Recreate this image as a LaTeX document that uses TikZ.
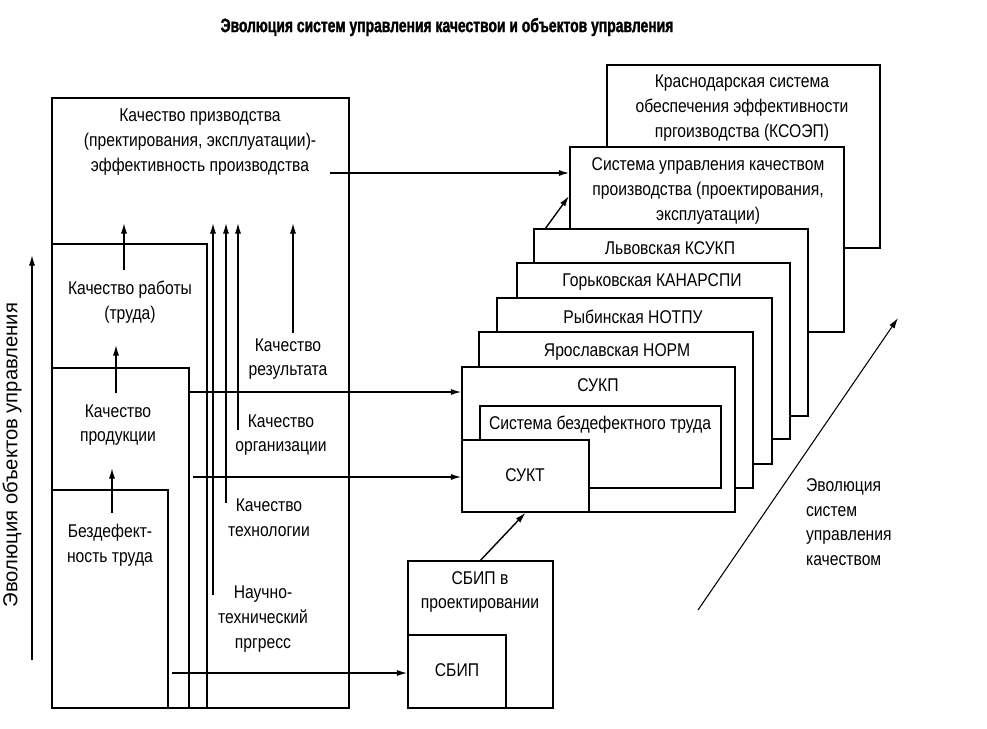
\documentclass[tikz,border=0pt]{standalone}
\usepackage{fontspec}
\setmainfont{Liberation Sans}[FakeStretch=0.85]
\newfontfamily\titlefont{Liberation Sans}[FakeStretch=0.72,FakeBold=1.5]
\newfontfamily\widefont{Liberation Sans}
\usetikzlibrary{arrows.meta,fit}
\begin{document}
\begin{tikzpicture}[x=0.02cm,y=-0.02cm,
  box/.style={draw,fill=white,line width=0.8pt,inner sep=0pt},
  lbl/.style={align=center,font=\fontsize{10.5}{14}\selectfont,inner sep=1pt},
  ln/.style={line width=0.8pt},
  arr/.style={line width=0.8pt,-{Latex[length=6pt,width=3.5pt]}}]
\useasboundingbox (0,0) rectangle (987,728);

% title
\node[font=\titlefont\fontsize{11}{13}\selectfont\bfseries] (title) at (447,27) {Эволюция систем управления качествои и объектов управления};

% left nested boxes
\node[box,fit={(52,98) (349,708)}] (q1) {};
\node[box,fit={(52,244) (207,708)}] (q2) {};
\node[box,fit={(52,368) (189,708)}] (q3) {};
\node[box,fit={(52,490) (168,708)}] (q4) {};

\node[lbl] (t1) at (200,142) {Качество призводства\\(пректирования, эксплуатации)-\\эффективность производства};
\node[lbl] (t2) at (130,302) {Качество работы\\(труда)};
\node[lbl] (t3) at (118,425) {Качество\\продукции};
\node[lbl] (t4) at (110,545) {Бездефект-\\ность труда};
\node[lbl] (r1) at (288,359) {Качество\\результата};
\node[lbl] (r2) at (281,435) {Качество\\организации};
\node[lbl] (r3) at (269,518) {Качество\\технологии};
\node[lbl] (r4) at (263,619) {Научно-\\технический\\пргресс};

% right stack
\node[box,fit={(607,65) (880,248)}] (kr) {};
\node[lbl] (krt) at (742,108) {Краснодарская система\\обеспечения эффективности\\пргоизводства (КСОЭП)};
\node[box,fit={(570,147) (844,332)}] (sup) {};
\node[lbl] (supt) at (708,191) {Система управления качеством\\производства (проектирования,\\эксплуатации)};
\node[box,fit={(534,229) (808,416)}] (lv) {};
\node[lbl] (lvt) at (670,248) {Львовская КСУКП};
\node[box,fit={(517,263) (790,439)}] (gor) {};
\node[lbl] (gort) at (652,282) {Горьковская КАНАРСПИ};
\node[box,fit={(497,298) (772,464)}] (ryb) {};
\node[lbl] (rybt) at (633,317) {Рыбинская НОТПУ};
\node[box,fit={(479,332) (753,488)}] (yar) {};
\node[lbl] (yart) at (617,352) {Ярославская НОРМ};
\node[box,fit={(462,367) (735,512)}] (sukp) {};
\node[lbl] (sukpt) at (598,385) {СУКП};
\node[box,fit={(480,406) (721,488)}] (sbt) {};
\node[lbl] (sbtt) at (600,425) {Система бездефектного труда};
\node[box,fit={(462,440) (589,512)}] (sukt) {};
\node[lbl] (suktt) at (525,475) {СУКТ};

\node[box,fit={(408,561) (553,708)}] (sbipp) {};
\node[lbl] (sbippt) at (480,592) {СБИП в\\проектировании};
\node[box,fit={(408,635) (506,708)}] (sbip) {};
\node[lbl] (sbipt) at (457,670) {СБИП};

\node[lbl,anchor=west,align=left] (evo) at (804,522) {Эволюция\\систем\\управления\\качеством};
\node[lbl,rotate=90,font=\widefont\fontsize{11.5}{14}\selectfont] (evol) at (12,455) {Эволюция объектов управления};

% free ends
\coordinate (p0) at (330,173);
\coordinate (h1) at (189,392);
\coordinate (h2) at (193,477);
\coordinate (h3) at (172,673);

\draw[arr] (p0) -- (p0 -| sup.west);
\draw[arr] (h1) -- (h1 -| sukp.west);
\draw[arr] (h2) -- (h2 -| sukt.west);
\draw[arr] (h3) -- (h3 -| sbip.west);

\coordinate (u0) at (124,270); \coordinate (u0e) at (124,223);
\draw[arr] (u0) -- (u0e);
\coordinate (u1) at (213,595); \coordinate (u1e) at (213,223);
\draw[arr] (u1) -- (u1e);
\coordinate (u2) at (226,503); \coordinate (u2e) at (226,223);
\draw[arr] (u2) -- (u2e);
\coordinate (u3) at (238,430); \coordinate (u3e) at (238,223);
\draw[arr] (u3) -- (u3e);
\coordinate (u4) at (293,333); \coordinate (u4e) at (293,223);
\draw[arr] (u4) -- (u4e);
\coordinate (u5) at (116,393); \coordinate (u5e) at (116,345);
\draw[arr] (u5) -- (u5e);
\coordinate (u6) at (112,513); \coordinate (u6e) at (112,468);
\draw[arr] (u6) -- (u6e);
\coordinate (v0) at (32,660); \coordinate (v0e) at (32,255);
\draw[arr] (v0) -- (v0e);

\draw[arr] (sbipp.north) -- (sukt.south);
\coordinate (l0) at (545,229); \coordinate (l0e) at (569,196);
\draw[arr] (l0) -- (l0e);
\coordinate (d0) at (698,610); \coordinate (d0e) at (898,318);
\draw[line width=0.6pt,-{Latex[length=6pt,width=3.5pt]}] (d0) -- (d0e);
\end{tikzpicture}
\end{document}
